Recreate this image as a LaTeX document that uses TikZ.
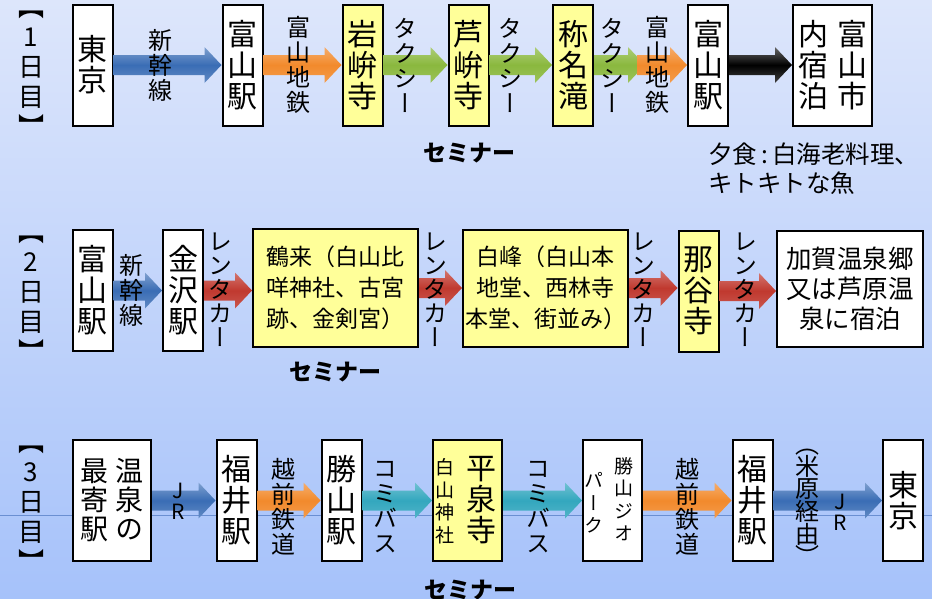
\documentclass[tikz,border=0pt]{standalone}
\usepackage{fontspec}
\setmainfont{Noto Sans CJK JP}
\newfontfamily\tate[RawFeature=+vert]{Noto Sans CJK JP}
\usetikzlibrary{calc,positioning}
\definecolor{bgtop}{HTML}{DDE6FB}
\definecolor{bgbot}{HTML}{A6C2FA}
\definecolor{boxyellow}{HTML}{FFFF99}
\definecolor{arrblue}{HTML}{3A6DB5}
\definecolor{arrorange}{HTML}{F28A2C}
\definecolor{arrgreen}{HTML}{8AB83E}
\definecolor{arrred}{HTML}{C0392F}
\definecolor{arrteal}{HTML}{33A7BE}
\definecolor{refline}{HTML}{6A8FD2}
\tikzset{
    station/.style={draw=black,line width=2pt,fill=white,inner sep=0pt,
        minimum width=40,minimum height=121,align=center,
        font=\tate\fontsize{30}{31}\selectfont},
    seminar/.style={station,fill=boxyellow},
    sitetext/.style={font=\rmfamily\fontsize{23}{31}\selectfont},
    route/.style={inner sep=0pt,align=center,font=\tate\fontsize{24}{25}\selectfont},
    smallroute/.style={inner sep=0pt,align=center,font=\tate\fontsize{19}{22.5}\selectfont},
    daytag/.style={inner sep=0pt,align=center,font=\tate\fontsize{26}{30}\selectfont},
    seminartag/.style={inner sep=0pt,font=\bfseries\fontsize{23}{25}\selectfont},
    fatarrow/.style={to path={let \p1=(\tikztostart), \p2=(\tikztotarget) in
        (\x1,\y1+10pt) -- (\x2-17pt,\y1+10pt) -- (\x2-17pt,\y1+18pt) -- (\x2,\y1)
        -- (\x2-17pt,\y1-18pt) -- (\x2-17pt,\y1-10pt) -- (\x1,\y1-10pt) -- cycle}},
    blueway/.style={top color=arrblue!65!white,bottom color=arrblue!80!white,middle color=arrblue},
    orangeway/.style={top color=arrorange!70!white,bottom color=arrorange!85!white,middle color=arrorange},
    greenway/.style={top color=arrgreen!70!white,bottom color=arrgreen!85!white,middle color=arrgreen},
    redway/.style={top color=arrred!70!white,bottom color=arrred!85!white,middle color=arrred},
    tealway/.style={top color=arrteal!70!white,bottom color=arrteal!85!white,middle color=arrteal},
    blackway/.style={top color=black!60,bottom color=black!75,middle color=black},
}

\begin{document}
\begin{tikzpicture}[x=1pt,y=-1pt]
\useasboundingbox (0,0) rectangle (932,598);
\shade[top color=bgtop,bottom color=bgbot] (0,0) rectangle (932,598);
\draw[refline,line width=0.8pt] (0,515) -- (932,515);

% day 1
\node[daytag] (dayA) at (31,74) {【\\1\\日\\目\\】};
\node[station] (tokyoA) at (92.5,65) {東\\京};
\node[station] (toyamaA) at (242.5,65) {富\\山\\駅};
\node[seminar] (iwa) at (362.5,65) {岩\\峅\\寺};
\node[seminar] (ashi) at (468.5,65) {芦\\峅\\寺};
\node[seminar] (shomyo) at (573,65) {称\\名\\滝};
\node[station] (toyamaB) at (708,65) {富\\山\\駅};
\node[station,minimum width=79] (hotelA) at (832.5,65) {内\hspace{9pt}富\\宿\hspace{9pt}山\\泊\hspace{9pt}市};
\coordinate (taxiEnd) at (645,65);
\coordinate (chitetsuStart) at (637,65);

% day 2
\node[daytag] (dayB) at (31,299) {【\\2\\日\\目\\】};
\node[station] (toyamaC) at (92.5,290.5) {富\\山\\駅};
\node[station] (kanazawa) at (183,290.5) {金\\沢\\駅};
\node[seminar,sitetext,minimum width=165,minimum height=118] (tsurugi) at (335.5,288)
    {鶴来（白山比\\咩神社、古宮\\跡、金剣宮）};
\node[seminar,sitetext,minimum width=165,minimum height=117] (shiramine) at (545.5,288)
    {白峰（白山本\\地堂、西林寺\\本堂、街並み）};
\node[seminar] (natadera) at (698.5,291) {那\\谷\\寺};
\node[station,sitetext,font=\rmfamily\fontsize{25.5}{30}\selectfont,minimum width=146,minimum height=116]
    (kaga) at (850,289) {加賀温泉郷\\又は芦原温\\泉に宿泊};

% day 3
\node[daytag] (dayC) at (31,509) {【\\3\\日\\目\\】};
\node[station,minimum width=78,font=\tate\fontsize{28}{29}\selectfont] (onsen) at (112,500.5)
    {最\hspace{8pt}温\\寄\hspace{8pt}泉\\駅\hspace{8pt}の};
\node[station] (fukuiA) at (236.5,500.5) {福\\井\\駅};
\node[station] (katsuyama) at (341.5,500.5) {勝\\山\\駅};
\node[seminar,minimum width=69] (heisen) at (467.5,500.5) {};
\node[smallroute] (hakusan) at (445,501) {白\\山\\神\\社};
\node[station,draw=none,fill=none,minimum height=0pt,minimum width=0pt] (heisenji) at (481,500) {平\\泉\\寺};
\node[station,minimum width=59] (geopark) at (612.5,500.5) {};
\node[smallroute] (geoA) at (624,499) {勝\\山\\ジ\\オ};
\node[smallroute] (geoB) at (594,503) {パ\\ー\\ク};
\node[station] (fukuiB) at (752.5,500.5) {福\\井\\駅};
\node[station] (tokyoB) at (903,500.5) {東\\京};

% arrows
\foreach \a/\b/\c in {tokyoA/toyamaA/blueway,toyamaA/iwa/orangeway,iwa/ashi/greenway,
    ashi/shomyo/greenway,toyamaB/hotelA/blackway,
    toyamaC/kanazawa/blueway,kanazawa/tsurugi/redway,tsurugi/shiramine/redway,
    shiramine/natadera/redway,natadera/kaga/redway,
    onsen/fukuiA/blueway,fukuiA/katsuyama/orangeway,katsuyama/heisen/tealway,
    heisen/geopark/tealway,geopark/fukuiB/orangeway,fukuiB/tokyoB/blueway}
  {\path[fatarrow,\c] (\a.east) to (\b.west);}
\path[fatarrow,greenway] (shomyo.east) to (taxiEnd);
\path[fatarrow,orangeway] (chitetsuStart) to (toyamaB.west);

% route labels
\node[route] (shinkanA) at (160,65) {新\\幹\\線};
\node[route] (chitetsuA) at (298,65) {富\\山\\地\\鉄};
\foreach \x/\n in {405/a,510/b,612/c}
    \node[route] (taxi\n) at (\x,65) {タ\\ク\\シ\\ー};
\node[route] (chitetsuB) at (657,65) {富\\山\\地\\鉄};
\node[seminartag] (semiA) at (469,153) {セミナー};
\node[sitetext,align=left,anchor=west,inner sep=0pt,font=\rmfamily\fontsize{24.5}{29}\selectfont]
    (dinner) at (708,169) {夕食\,:\,白海老料理、\\キトキトな魚};

\node[route] (shinkanB) at (131,290) {新\\幹\\線};
\foreach \x/\n in {220/a,435/b,643/c,745/d}
    \node[route,font=\tate\fontsize{24}{24}\selectfont] (rental\n) at (\x,290) {レ\\ン\\タ\\カ\\ー};
\node[seminartag] (semiB) at (335,372) {セミナー};

\node[route,font=\tate\fontsize{21}{21}\selectfont] (jrA) at (178,501) {J\\R};
\node[route] (echizenA) at (283,507) {越\\前\\鉄\\道};
\node[route] (comiA) at (385,507) {コ\\ミ\\バ\\ス};
\node[route] (comiB) at (538,507) {コ\\ミ\\バ\\ス};
\node[route] (echizenB) at (687,507) {越\\前\\鉄\\道};
\node[route,font=\tate\fontsize{24}{22}\selectfont] (maibara) at (807,507) {（\\米\\原\\経\\由\\）};
\node[route,font=\tate\fontsize{21}{21}\selectfont] (jrB) at (840,512) {J\\R};
\node[seminartag] (semiC) at (470,590) {セミナー};
\end{tikzpicture}
\end{document}
